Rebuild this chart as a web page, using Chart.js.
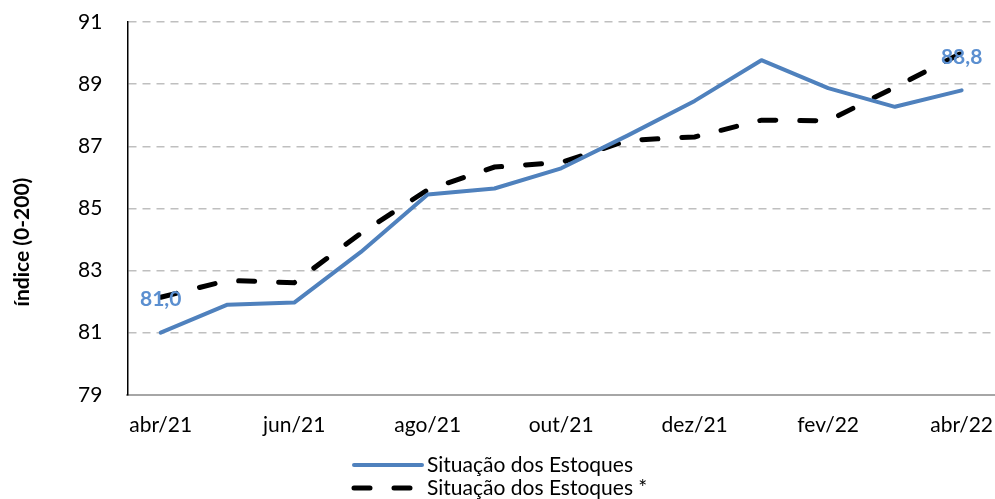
<!DOCTYPE html>
<html>
<head>
<meta charset="utf-8">
<script src="https://cdn.jsdelivr.net/npm/chart.js@4/dist/chart.umd.min.js"></script>
<style>
  html, body { margin: 0; padding: 0; background: #fff; }
  #wrap { width: 995px; height: 499px; position: relative; }
</style>
</head>
<body>
<div id="wrap"><canvas id="myChart"></canvas></div>
<script>
// months (abr/21 .. abr/22)
const months = ['abr/21','mai/21','jun/21','jul/21','ago/21','set/21','out/21','nov/21','dez/21','jan/22','fev/22','mar/22','abr/22'];
const shownMonths = ['abr/21','jun/21','ago/21','out/21','dez/21','fev/22','abr/22'];
const estoques = [81.0, 81.9, 81.97, 83.6, 85.45, 85.64, 86.29, 87.35, 88.46, 89.77, 88.87, 88.27, 88.8];
const estoquesAjust = [82.14, 82.68, 82.61, 84.2, 85.6, 86.33, 86.48, 87.19, 87.3, 87.84, 87.82, 88.9, 90.0];
const yTicks = [79, 81, 83, 85, 87, 89, 91];
const seriesNames = ['Situação dos Estoques', 'Situação dos Estoques *'];

const FONT = 'Lato, "Open Sans", sans-serif';
const BLUE = '#4F81BD';

// labels 81,0 and 88,8 over first and last point of the blue line
const pointLabels = {
	id: 'pointLabels',
	afterDatasetsDraw(chart) {
		const ctx = chart.ctx;
		const pts = chart.getDatasetMeta(0).data;
		ctx.save();
		ctx.font = 'bold 21px ' + FONT;
		ctx.fillStyle = '#5B8FD0';
		ctx.textAlign = 'center';
		ctx.textBaseline = 'middle';
		[0, pts.length - 1].forEach(i => {
			const txt = estoques[i].toFixed(1).replace('.', ',');
			ctx.fillText(txt, pts[i].x, pts[i].y - 33);
		});
		ctx.restore();
	}
};

// y title + stacked legend under the chart
const extras = {
	id: 'extras',
	afterDraw(chart) {
		const ctx = chart.ctx;
		ctx.save();
		ctx.font = 'bold 21px ' + FONT;
		ctx.fillStyle = '#000';
		ctx.textAlign = 'center';
		ctx.textBaseline = 'middle';
		ctx.translate(22, 242);
		ctx.rotate(-Math.PI / 2);
		ctx.fillText('índice (0-200)', 0, 0);
		ctx.restore();

		ctx.save();
		ctx.font = '21px ' + FONT;
		ctx.textBaseline = 'middle';
		chart.data.datasets.forEach((ds, i) => {
			const y = 465 + i * 23;
			ctx.beginPath();
			ctx.strokeStyle = ds.borderColor;
			ctx.lineWidth = ds.borderWidth;
			ctx.lineCap = 'round';
			ctx.setLineDash(ds.borderDash || []);
			ctx.moveTo(354, y);
			ctx.lineTo(422, y);
			ctx.stroke();
			ctx.setLineDash([]);
			ctx.fillStyle = '#000';
			ctx.fillText(ds.label, 427, y);
		});
		ctx.restore();
	}
};

new Chart(document.getElementById('myChart'), {
	type: 'line',
	data: {
		labels: months,
		datasets: [{
			label: seriesNames[0],
			data: estoques,
			borderColor: BLUE,
			backgroundColor: BLUE,
			borderWidth: 4,
			fill: false,
			pointRadius: 0,
			tension: 0,
			borderCapStyle: 'round',
			borderJoinStyle: 'round'
		},
		{
			label: seriesNames[1],
			data: estoquesAjust,
			borderColor: '#000',
			backgroundColor: '#000',
			borderWidth: 5,
			borderDash: [16, 24],
			borderCapStyle: 'round',
			fill: false,
			pointRadius: 0,
			tension: 0
		}]
	},
	options: {
		responsive: true,
		maintainAspectRatio: false,
		animation: false,
		events: [],
		layout: { padding: { left: 53, right: 0, top: 22, bottom: 51 } },
		plugins: {
			legend: { display: false },
			tooltip: { enabled: false }
		},
		scales: {
			x: {
				offset: true,
				grid: { display: false },
				border: { display: true, color: '#A6A6A6', width: 2 },
				afterFit: s => { s.paddingLeft = 0; s.paddingRight = 0; },
				ticks: {
					autoSkip: false,
					maxRotation: 0,
					padding: 10,
					color: '#000',
					font: { family: FONT, size: 21 },
					callback: function(v, i) {
						const m = months[i];
						return shownMonths.includes(m) ? m : '';
					}
				}
			},
			y: {
				min: yTicks[0],
				max: yTicks[yTicks.length - 1],
				afterBuildTicks: s => { s.ticks = yTicks.map(v => ({ value: v })); },
				afterFit: s => { s.paddingTop = 0; s.paddingBottom = 0; },
				grid: { color: '#BFBFBF', lineWidth: 1.5, drawTicks: false },
				border: { display: true, color: '#000', width: 1.5, dash: [8, 6] },
				ticks: {
					padding: 25,
					color: '#000',
					font: { family: FONT, size: 21 }
				}
			}
		}
	},
	plugins: [pointLabels, extras]
});
</script>
</body>
</html>
